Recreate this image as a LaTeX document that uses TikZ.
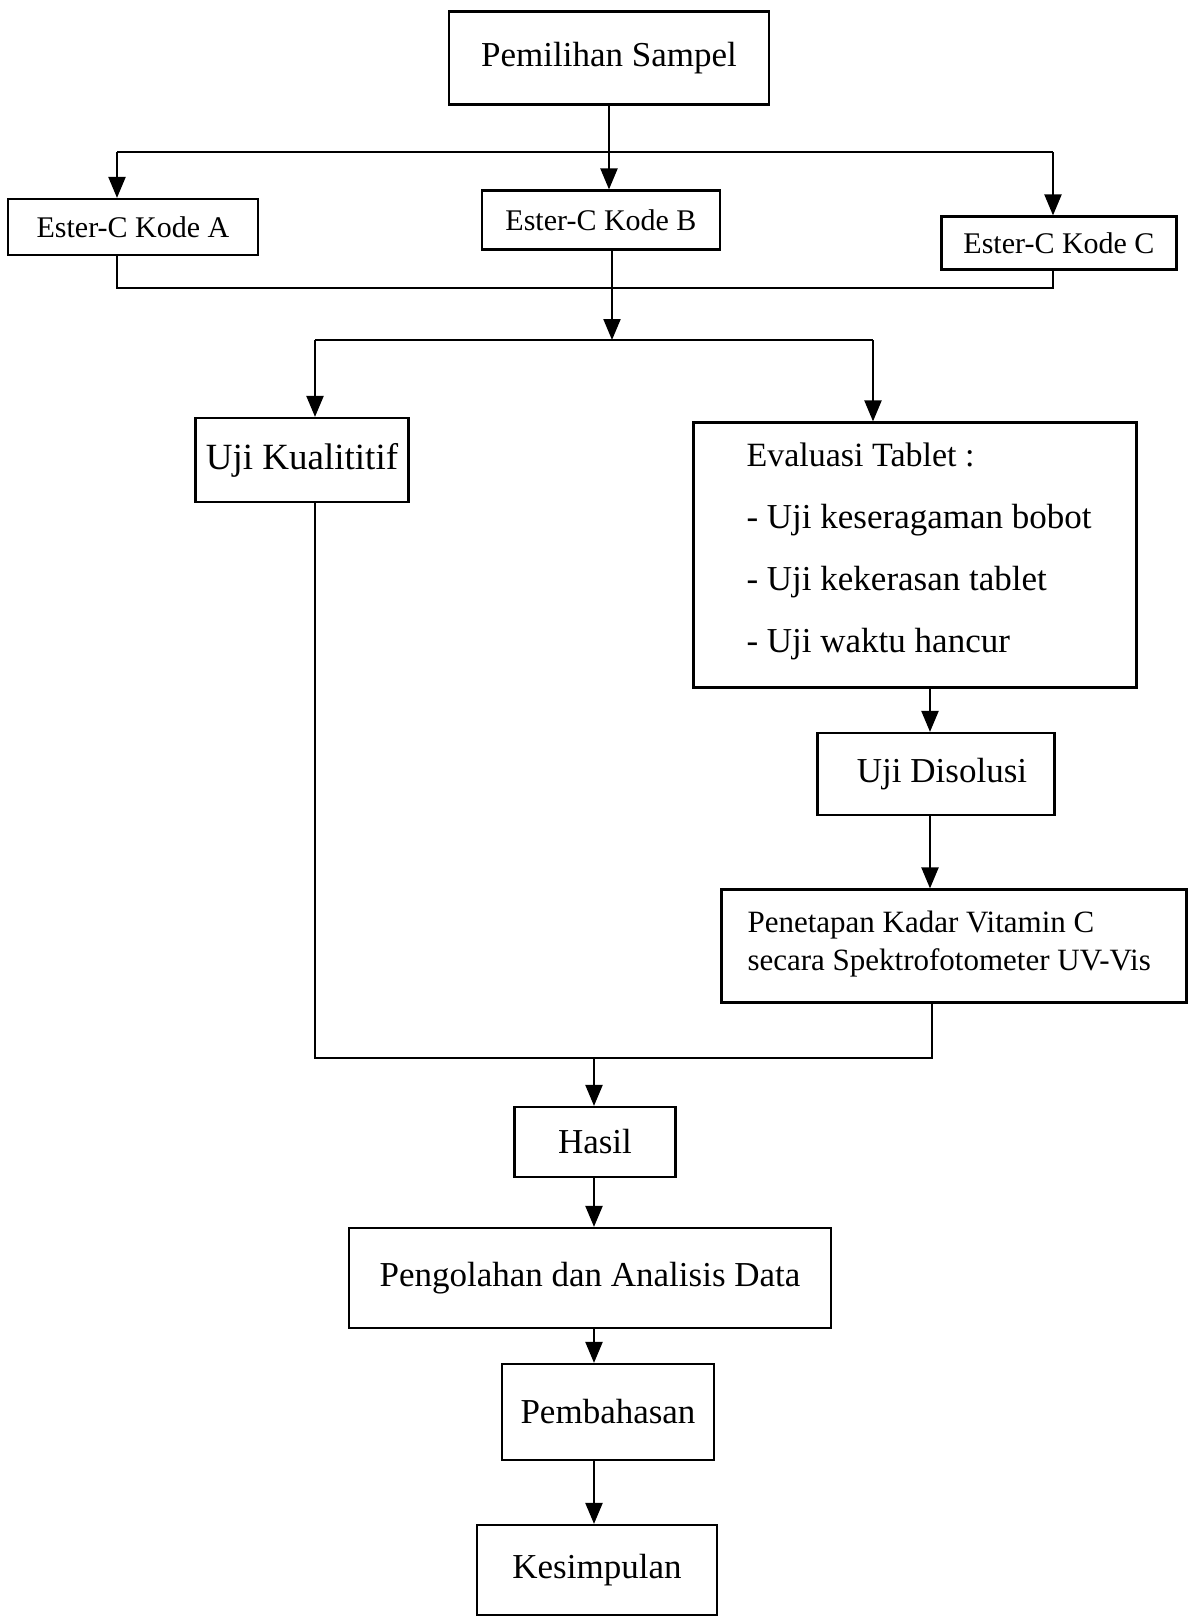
\documentclass[tikz,border=0pt]{standalone}
\usepackage{fontspec}
\setmainfont{Liberation Serif}
\usetikzlibrary{arrows.meta}
\begin{document}
\begin{tikzpicture}[x=1pt,y=-1pt,
  box/.style={draw, line width=2.2pt, inner sep=0pt, align=center, font=\fontsize{35}{40}\selectfont},
  ln/.style={line width=2.2pt},
  arr/.style={line width=2.2pt, -{Triangle[length=21pt,width=17pt]}}]
\useasboundingbox (0,0) rectangle (1189,1618);
% nodes
\node[box, minimum width=320, minimum height=93] (P) at (609,58) {Pemilihan Sampel};
\node[box, minimum width=250, minimum height=56, font=\fontsize{30}{34}\selectfont] (A) at (133,227) {Ester-C Kode A};
\node[box, minimum width=238, minimum height=59, font=\fontsize{30}{34}\selectfont] (B) at (601,220) {Ester-C Kode B};
\node[box, minimum width=235, minimum height=53, font=\fontsize{30}{34}\selectfont] (C) at (1059,243) {Ester-C Kode C};
\node[box, minimum width=213, minimum height=84, font=\fontsize{37}{42}\selectfont] (K) at (302,460) {Uji Kualititif};
\node[box, minimum width=443, minimum height=265] (E) at (915,555) {};
\node[anchor=base west, font=\fontsize{34}{40}\selectfont] (E1) at (743,466) {Evaluasi Tablet :};
\node[anchor=base west, font=\fontsize{35}{40}\selectfont] (E2) at (743,528) {- Uji keseragaman bobot};
\node[anchor=base west, font=\fontsize{35}{40}\selectfont] (E3) at (743,590) {- Uji kekerasan tablet};
\node[anchor=base west, font=\fontsize{35}{40}\selectfont] (E4) at (743,652) {- Uji waktu hancur};
\node[box, minimum width=237, minimum height=82] (D) at (936,774) {\hspace*{12pt}Uji Disolusi};
\node[box, minimum width=465, minimum height=113] (V) at (954,946) {};
\node[anchor=base west, font=\fontsize{31}{38}\selectfont] (V1) at (744,932) {Penetapan Kadar Vitamin C};
\node[anchor=base west, font=\fontsize{31}{38}\selectfont] (V2) at (744,970) {secara Spektrofotometer UV-Vis};
\node[box, minimum width=161, minimum height=70] (H) at (595,1142) {Hasil};
\node[box, minimum width=482, minimum height=100] (O) at (590,1278) {Pengolahan dan Analisis Data};
\node[box, minimum width=212, minimum height=96] (M) at (608,1412) {Pembahasan};
\node[box, minimum width=240, minimum height=90] (S) at (597,1570) {Kesimpulan};
% coordinates
\coordinate (tl) at (117,152);
\coordinate (tr) at (1053,152);
\coordinate (bl) at (117,288);
\coordinate (br) at (1053,288);
\coordinate (sp) at (612,340);
\coordinate (sl) at (315,340);
\coordinate (sr) at (873,340);
\coordinate (ev) at (930,0);
\coordinate (jl) at (315,1058);
\coordinate (jr) at (932,1058);
\coordinate (jm) at (594,1058);
% connectors
\draw[ln] (tl) -- (tr);
\draw[arr] (tl) -- (tl |- A.north);
\draw[arr] (P.south) -- (P.south |- B.north);
\draw[arr] (tr) -- (tr |- C.north);
\draw[ln] (A.south -| bl) -- (bl) -- (br) -- (C.south -| br);
\draw[arr] (B.south -| sp) -- (sp);
\draw[ln] (sl) -- (sr);
\draw[arr] (sl) -- (sl |- K.north);
\draw[arr] (sr) -- (sr |- E.north);
\draw[arr] (E.south -| ev) -- (D.north -| ev);
\draw[arr] (D.south -| ev) -- (V.north -| ev);
\draw[ln] (K.south -| jl) -- (jl) -- (jr) -- (V.south -| jr);
\draw[arr] (jm) -- (jm |- H.north);
\draw[arr] (H.south -| jm) -- (O.north -| jm);
\draw[arr] (O.south -| jm) -- (M.north -| jm);
\draw[arr] (M.south -| jm) -- (S.north -| jm);
\end{tikzpicture}
\end{document}
